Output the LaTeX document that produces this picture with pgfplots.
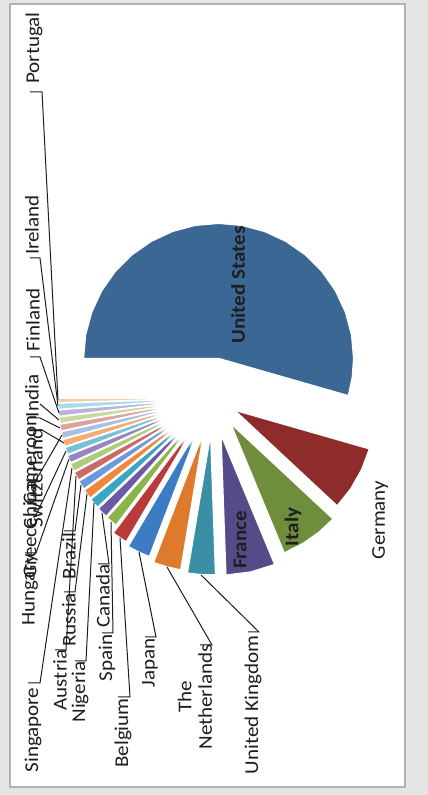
\documentclass[border=0pt]{standalone}
\usepackage{fontspec}
\setmainfont{Carlito}
\usepackage{pgfplots}
\pgfplotsset{compat=1.18}
\usepgfplotslibrary{polar}
\usetikzlibrary{fadings}
% colours (Excel 2007 palette, as photographed)
\definecolor{cUS}{HTML}{3B6795}
\definecolor{cDE}{HTML}{8E2B2B}
\definecolor{cIT}{HTML}{6E8E3E}
\definecolor{cFR}{HTML}{554B88}
\definecolor{cUK}{HTML}{3A8EA6}
\definecolor{cNL}{HTML}{DD7A2C}
\definecolor{cJP}{HTML}{3C7CC4}
\definecolor{cBE}{HTML}{B83A3A}
\definecolor{cES}{HTML}{8CB44A}
\definecolor{cCA}{HTML}{6C5AA6}
\definecolor{cNG}{HTML}{3AA6C2}
\definecolor{cRU}{HTML}{F0873A}
\definecolor{cBR}{HTML}{6C9AD8}
\definecolor{cAT}{HTML}{CD6A68}
\definecolor{cSG}{HTML}{ADCB78}
\definecolor{cHU}{HTML}{9686C0}
\definecolor{cGR}{HTML}{74C2D6}
\definecolor{cCH}{HTML}{F6AA74}
\definecolor{cCN}{HTML}{A8C0E6}
\definecolor{cCM}{HTML}{E0A2A0}
\definecolor{cIN}{HTML}{C6DAA0}
\definecolor{cFI}{HTML}{BDB2DA}
\definecolor{cIE}{HTML}{A9DCE8}
\definecolor{cPT}{HTML}{F9C8A4}
\definecolor{txt}{HTML}{1E1E1E}
\tikzset{
  leader/.style={txt, line width=1pt},
  lbl/.style={font=\fontsize{19.5}{20.5}\selectfont, text=txt, rotate=90, xscale=1.08, inner sep=0pt},
  blbl/.style={font=\fontsize{19.5}{20.5}\selectfont\bfseries, text=txt, rotate=90, xscale=1.08, inner sep=0pt},
}
\pgfplotsset{slice/.style={data cs=polar, draw=white, line width=1.2pt, line join=round, fill=#1}}
\begin{document}
\begin{tikzpicture}
\begin{axis}[
  scale only axis, width=428pt, height=795pt,
  xmin=-213, xmax=215, ymin=-397, ymax=398,
  axis line style={draw=none}, ticks=none,
  axis background/.style={fill=gray!20},
  clip=false,
]
% chart area
\fill[white] (axis cs:-203,-389) rectangle (axis cs:192,394);
\draw[gray!60, line width=1.5pt] (axis cs:-203,-389) rectangle (axis cs:192,394);

% slices: (angle in degrees, radius); shift = explosion of each slice
\addplot[slice=cUS, xshift=5.57pt, yshift=39.61pt] coordinates {(-16,0) (-16,135) (-8,135) (0,135) (10,135) (20,135) (30,135) (40,135) (50,135) (60,135) (70,135) (80,135) (90,135) (100,135) (110,135) (120,135) (130,135) (140,135) (150,135) (160,135) (170,135) (180,135) (180,0)};
\addplot[slice=cDE, xshift=21.76pt, yshift=-12.31pt] coordinates {(-16,0) (-16,140) (-25,140) (-34,140) (-43,140) (-43,0)};
\addplot[slice=cIT, xshift=17.67pt, yshift=-25.48pt] coordinates {(-43,0) (-43,140) (-51,140) (-59,140) (-67.5,140) (-67.5,0)};
\addplot[slice=cFR, xshift=8.06pt, yshift=-37.13pt] coordinates {(-67.5,0) (-67.5,140) (-77.75,140) (-88,140) (-88,0)};
\addplot[slice=cUK, xshift=-2.42pt, yshift=-36.92pt] coordinates {(-88,0) (-88,140) (-93.75,140) (-99.5,140) (-99.5,0)};
\addplot[slice=cNL, xshift=-9.21pt, yshift=-33.77pt] coordinates {(-99.5,0) (-99.5,140) (-105.25,140) (-111,140) (-111,0)};
\addplot[slice=cJP, xshift=-13.49pt, yshift=-27.91pt] coordinates {(-111,0) (-111,140) (-115.8,140) (-120.6,140) (-120.6,0)};
\addplot[slice=cBE, xshift=-15.58pt, yshift=-23.27pt] coordinates {(-120.6,0) (-120.6,140) (-127,140) (-127,0)};
\addplot[slice=cES, xshift=-12.69pt, yshift=-15.45pt] coordinates {(-127,0) (-127,140) (-131.8,140) (-131.8,0)};
\addplot[slice=cCA, xshift=-13.56pt, yshift=-14.02pt] coordinates {(-131.8,0) (-131.8,140) (-136.3,140) (-136.3,0)};
\addplot[slice=cNG, xshift=-14.22pt, yshift=-12.60pt] coordinates {(-136.3,0) (-136.3,140) (-140.6,140) (-140.6,0)};
\addplot[slice=cRU, xshift=-14.70pt, yshift=-11.24pt] coordinates {(-140.6,0) (-140.6,140) (-144.6,140) (-144.6,0)};
\addplot[slice=cBR, xshift=-15.01pt, yshift=-9.93pt] coordinates {(-144.6,0) (-144.6,140) (-148.4,140) (-148.4,0)};
\addplot[slice=cAT, xshift=-15.19pt, yshift=-8.70pt] coordinates {(-148.4,0) (-148.4,140) (-152,140) (-152,0)};
\addplot[slice=cSG, xshift=-15.24pt, yshift=-7.53pt] coordinates {(-152,0) (-152,140) (-155.4,140) (-155.4,0)};
\addplot[slice=cHU, xshift=-15.19pt, yshift=-6.45pt] coordinates {(-155.4,0) (-155.4,140) (-158.6,140) (-158.6,0)};
\addplot[slice=cGR, xshift=-15.05pt, yshift=-5.43pt] coordinates {(-158.6,0) (-158.6,140) (-161.7,140) (-161.7,0)};
\addplot[slice=cCH, xshift=-15.32pt, yshift=-4.62pt] coordinates {(-161.7,0) (-161.7,140) (-164.7,140) (-164.7,0)};
\addplot[slice=cCN, xshift=-15.05pt, yshift=-3.71pt] coordinates {(-164.7,0) (-164.7,140) (-167.6,140) (-167.6,0)};
\addplot[slice=cCM, xshift=-15.22pt, yshift=-2.96pt] coordinates {(-167.6,0) (-167.6,140) (-170.4,140) (-170.4,0)};
\addplot[slice=cIN, xshift=-14.85pt, yshift=-2.15pt] coordinates {(-170.4,0) (-170.4,140) (-173.1,140) (-173.1,0)};
\addplot[slice=cFI, xshift=-14.93pt, yshift=-1.46pt] coordinates {(-173.1,0) (-173.1,140) (-175.7,140) (-175.7,0)};
\addplot[slice=cIE, xshift=-14.98pt, yshift=-0.80pt] coordinates {(-175.7,0) (-175.7,140) (-178.2,140) (-178.2,0)};
\addplot[slice=cPT, xshift=-15.00pt, yshift=-0.24pt] coordinates {(-178.2,0) (-178.2,140) (-180,140) (-180,0)};

% washed-out centre of the photograph
\fill[white, path fading=circle with fuzzy edge 20 percent] (axis cs:-22,-8) circle [radius=42pt];

% leader lines
\addplot[leader] coordinates {(-183,306) (-171,306) (-155,-2)};
\addplot[leader] coordinates {(-183,140) (-173,140) (-155,-8)};
\addplot[leader] coordinates {(-183,41) (-173,41) (-154,-15)};
\addplot[leader] coordinates {(-173,-6) (-154,-22)};
\addplot[leader] coordinates {(-185,-20) (-173,-20) (-153,-30)};
\addplot[leader] coordinates {(-183,-32) (-171,-32) (-149,-45)};
\addplot[leader] coordinates {(-187,-82) (-177,-82) (-151,-37)};
\addplot[leader] coordinates {(-188,-117) (-177,-117) (-147,-53)};
\addplot[leader] coordinates {(-188,-155) (-177,-155) (-144,-61)};
\addplot[leader] coordinates {(-185,-285) (-173,-285) (-141,-70)};
\addplot[leader] coordinates {(-158,-252) (-147,-252) (-137,-78)};
\addplot[leader] coordinates {(-149,-133) (-138,-133) (-132,-87)};
\addplot[leader] coordinates {(-149,-194) (-138,-194) (-126,-96)};
\addplot[leader] coordinates {(-138,-263) (-127,-263) (-119,-105)};
\addplot[leader] coordinates {(-115,-166) (-104,-166) (-111,-115)};
\addplot[leader] coordinates {(-111,-235) (-100,-235) (-102,-124)};
\addplot[leader] coordinates {(-95,-299) (-83,-299) (-93,-140)};
\addplot[leader] coordinates {(-68,-239) (-57,-239) (-74,-154)};
\addplot[leader] coordinates {(-13,-247) (-1,-247) (-46,-169)};
\addplot[leader] coordinates {(35,-234) (46,-234) (-12,-177)};

% labels
\node[lbl] at (axis cs:-179,350) {Portugal};
\node[lbl] at (axis cs:-181,173) {Ireland};
\node[lbl] at (axis cs:-180,78) {Finland};
\node[lbl] at (axis cs:-181,2) {India};
\node[lbl] at (axis cs:-183,-62) {Cameroon};
\node[lbl] at (axis cs:-177,-80) {Switzerland};
\node[lbl] at (axis cs:-183,-107) {China};
\node[lbl] at (axis cs:-183,-150) {Greece};
\node[lbl] at (axis cs:-183,-192) {Hungary};
\node[lbl] at (axis cs:-180,-332) {Singapore};
\node[lbl] at (axis cs:-153,-282) {Austria};
\node[lbl] at (axis cs:-144,-158) {Brazil};
\node[lbl] at (axis cs:-144,-222) {Russia};
\node[lbl] at (axis cs:-133,-294) {Nigeria};
\node[lbl] at (axis cs:-110,-198) {Canada};
\node[lbl] at (axis cs:-106,-260) {Spain};
\node[lbl] at (axis cs:-90,-335) {Belgium};
\node[lbl] at (axis cs:-63,-265) {Japan};
\node[lbl, align=center] at (axis cs:-18,-299) {The\\Netherlands};
\node[lbl] at (axis cs:40,-307) {United Kingdom};
\node[lbl] at (axis cs:167,-122) {Germany};
\node[blbl] at (axis cs:27,-142) {France};
\node[blbl] at (axis cs:80,-129) {Italy};
\node[blbl] at (axis cs:25,113) {United States};
\end{axis}
\end{tikzpicture}
\end{document}
